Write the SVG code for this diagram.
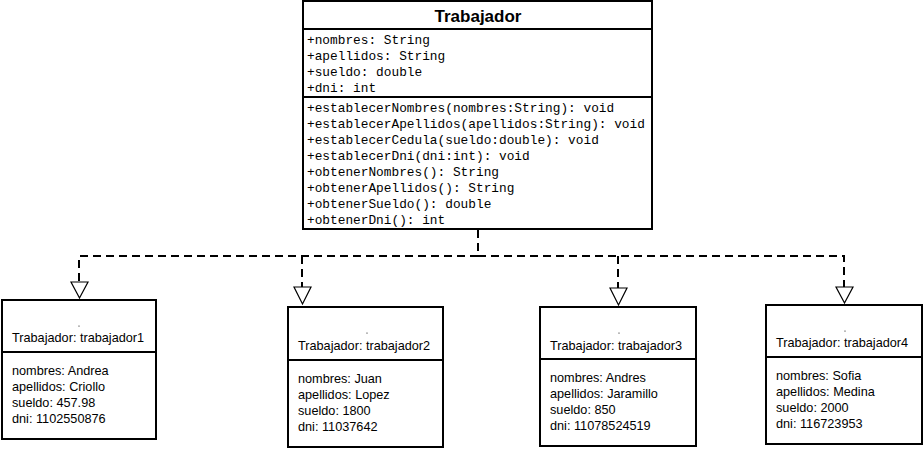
<svg xmlns="http://www.w3.org/2000/svg" width="924" height="449" viewBox="0 0 924 449">
  <style>
    .box { fill: #ffffff; stroke: #000000; stroke-width: 2; }
    .sep { stroke: #000000; stroke-width: 2; }
    .title { font-family: "Liberation Sans", Arial, sans-serif; font-size: 17px; font-weight: bold; fill: #000; }
    .mono { font-family: "Liberation Mono", "Courier New", monospace; font-size: 12.8px; fill: #000; }
    .obj { font-family: "Liberation Sans", Arial, sans-serif; font-size: 12.7px; fill: #000; }
    .dash { fill: none; stroke: #000; stroke-width: 2; stroke-dasharray: 8 5; }
    .tri { fill: #ffffff; stroke: #000; stroke-width: 1.2; }
  </style>
  <rect width="924" height="449" fill="#ffffff"/>

  <!-- Class Trabajador -->
  <g id="trabajador">
    <rect class="box" x="303" y="1" width="349" height="228"/>
    <line class="sep" x1="303" y1="29" x2="652" y2="29"/>
    <line class="sep" x1="303" y1="97" x2="652" y2="97"/>
    <text class="title" x="478" y="22" text-anchor="middle">Trabajador</text>
    <text class="mono" x="307" y="44">+nombres: String</text>
    <text class="mono" x="307" y="60">+apellidos: String</text>
    <text class="mono" x="307" y="76">+sueldo: double</text>
    <text class="mono" x="307" y="92">+dni: int</text>
    <text class="mono" x="307" y="112">+establecerNombres(nombres:String): void</text>
    <text class="mono" x="307" y="128">+establecerApellidos(apellidos:String): void</text>
    <text class="mono" x="307" y="144">+establecerCedula(sueldo:double): void</text>
    <text class="mono" x="307" y="160">+establecerDni(dni:int): void</text>
    <text class="mono" x="307" y="176">+obtenerNombres(): String</text>
    <text class="mono" x="307" y="192">+obtenerApellidos(): String</text>
    <text class="mono" x="307" y="208">+obtenerSueldo(): double</text>
    <text class="mono" x="307" y="224">+obtenerDni(): int</text>
  </g>

  <!-- Realization connectors -->
  <g id="connectors">
    <path class="dash" d="M478,230 V256"/>
    <path class="dash" d="M478,256 H79 V282"/>
    <path class="dash" d="M478,256 H844 V287"/>
    <path class="dash" d="M302,256 V287"/>
    <path class="dash" d="M618,256 V288"/>
    <polygon class="tri" points="71,282 88,282 79.5,298"/>
    <polygon class="tri" points="294,287 311,287 302.5,304"/>
    <polygon class="tri" points="610,288 627,288 618.5,305"/>
    <polygon class="tri" points="836,287 853,287 844.5,303"/>
  </g>

  <!-- Object trabajador1 -->
  <g id="trabajador1">
    <rect class="box" x="2" y="300" width="154" height="139"/>
    <line class="sep" x1="2" y1="352" x2="156" y2="352"/>
    <circle cx="79" cy="326" r="0.6" fill="#000"/>
    <text class="obj" x="12" y="342">Trabajador: trabajador1</text>
    <text class="obj" x="12" y="375">nombres: Andrea</text>
    <text class="obj" x="12" y="391">apellidos: Criollo</text>
    <text class="obj" x="12" y="407">sueldo: 457.98</text>
    <text class="obj" x="12" y="423">dni: 1102550876</text>
  </g>

  <!-- Object trabajador2 -->
  <g id="trabajador2">
    <rect class="box" x="288" y="307" width="155" height="140"/>
    <line class="sep" x1="288" y1="360" x2="443" y2="360"/>
    <circle cx="367" cy="333" r="0.6" fill="#000"/>
    <text class="obj" x="298" y="350">Trabajador: trabajador2</text>
    <text class="obj" x="298" y="383">nombres: Juan</text>
    <text class="obj" x="298" y="399">apellidos: Lopez</text>
    <text class="obj" x="298" y="415">sueldo: 1800</text>
    <text class="obj" x="298" y="431">dni: 11037642</text>
  </g>

  <!-- Object trabajador3 -->
  <g id="trabajador3">
    <rect class="box" x="540" y="307" width="156" height="139"/>
    <line class="sep" x1="540" y1="359" x2="696" y2="359"/>
    <circle cx="619" cy="333" r="0.6" fill="#000"/>
    <text class="obj" x="550" y="350">Trabajador: trabajador3</text>
    <text class="obj" x="550" y="382">nombres: Andres</text>
    <text class="obj" x="550" y="398">apellidos: Jaramillo</text>
    <text class="obj" x="550" y="414">sueldo: 850</text>
    <text class="obj" x="550" y="430">dni: 11078524519</text>
  </g>

  <!-- Object trabajador4 -->
  <g id="trabajador4">
    <rect class="box" x="766" y="305" width="156" height="139"/>
    <line class="sep" x1="766" y1="357" x2="922" y2="357"/>
    <circle cx="845" cy="331" r="0.6" fill="#000"/>
    <text class="obj" x="776" y="347">Trabajador: trabajador4</text>
    <text class="obj" x="776" y="380">nombres: Sofia</text>
    <text class="obj" x="776" y="396">apellidos: Medina</text>
    <text class="obj" x="776" y="412">sueldo: 2000</text>
    <text class="obj" x="776" y="428">dni: 116723953</text>
  </g>
</svg>
